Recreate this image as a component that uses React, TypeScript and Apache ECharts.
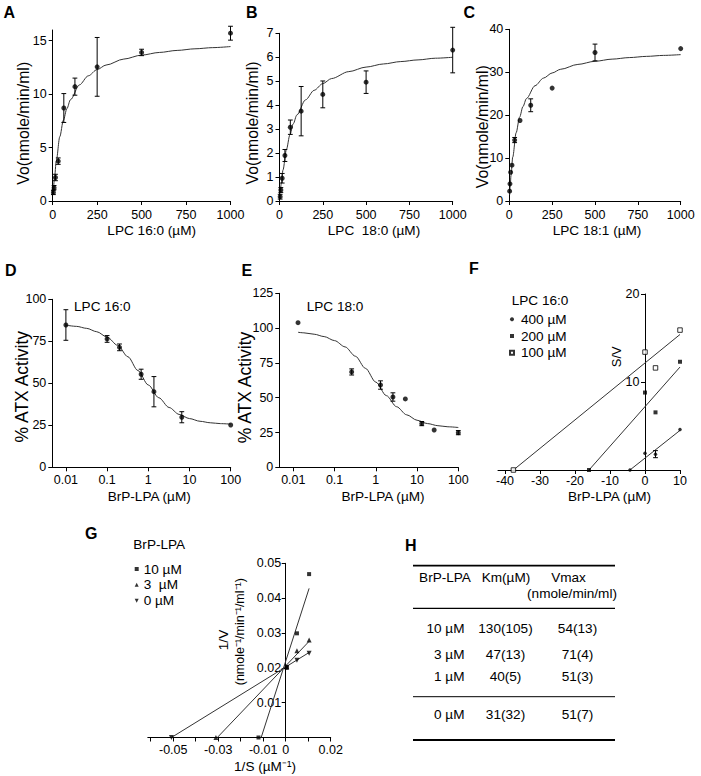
import React, { useEffect, useRef } from 'react';
import * as echarts from 'echarts';

const FONT = '"Liberation Sans", Arial, sans-serif';

// A-C: initial velocity against substrate (µM)
const concAB = [3.9, 7.8, 15.6, 31.25, 62.5, 125, 250, 500, 1000];
const voA = [0.8, 1.25, 2.2, 3.73, 8.7, 10.7, 12.55, 13.9, 15.7];
const errA = [0.2, 0.2, 0.3, 0.3, 1.35, 0.8, 2.75, 0.3, 0.65];
const voB = [0.18, 0.46, 0.95, 1.9, 3.08, 3.75, 4.45, 4.96, 6.3];
const errB = [0.1, 0.1, 0.2, 0.25, 0.3, 1.03, 0.56, 0.47, 0.95];
const concC = [2, 3.9, 7.8, 15.6, 31.25, 62.5, 125, 250, 500, 1000];
const voC = [2.3, 4.0, 6.7, 8.35, 14.2, 18.75, 22.3, 26.3, 34.6, 35.5];
const errC = [0, 0, 0, 0, 0.6, 0, 1.5, 0, 1.95, 0];

// fitted curves
const fitXAB = [4, 10, 20, 40, 60, 80, 100, 150, 200, 250, 300, 400, 500, 600, 700, 800, 900, 1000];
const fitA = [0.93, 2.13, 3.75, 6.02, 7.55, 8.65, 9.48, 10.86, 11.71, 12.3, 12.72, 13.28, 13.65, 13.9, 14.09, 14.24, 14.35, 14.45];
const fitB = [0.31, 0.71, 1.29, 2.15, 2.76, 3.23, 3.59, 4.22, 4.62, 4.9, 5.11, 5.4, 5.59, 5.72, 5.82, 5.89, 5.96, 6.0];
const fitXC = [2, 5, 10, 20, 40, 60, 80, 100, 150, 200, 250, 300, 400, 500, 600, 700, 800, 900, 1000];
const fitC = [1.38, 3.25, 5.97, 10.23, 15.91, 19.53, 22.03, 23.87, 26.85, 28.64, 29.83, 30.69, 31.82, 32.55, 33.05, 33.41, 33.69, 33.92, 34.1];

// D-E: % ATX activity against BrP-LPA (µM, log axis)
const concD = [0.01, 0.1, 0.2, 0.67, 1.37, 6.5, 100];
const actD = [84.7, 76.4, 71.4, 55.4, 45.0, 29.8, 25.2];
const errD = [9.1, 2, 2, 3, 9, 3.3, 0];
const fitXD = [0.01, 0.018, 0.032, 0.056, 0.1, 0.18, 0.32, 0.56, 1, 1.8, 3.2, 5.6, 10, 18, 32, 56, 100];
const fitD = [84.6, 83.9, 82.7, 80.7, 77.5, 72.6, 65.8, 57.6, 49.0, 41.4, 35.6, 31.5, 29.0, 27.4, 26.5, 26.0, 25.7];
const concE = [0.013, 0.26, 1.3, 2.6, 5.2, 13, 26, 100];
const actE = [103.9, 68.5, 59.1, 50.5, 49.1, 31.4, 26.8, 24.9];
const errE = [0, 2.2, 3, 3, 0, 1.5, 0, 1.5];
const fitXE = [0.013, 0.018, 0.032, 0.056, 0.1, 0.18, 0.32, 0.56, 1, 1.8, 3.2, 5.6, 10, 18, 32, 56, 100];
const fitE = [97.0, 96.6, 95.6, 93.9, 91.0, 86.5, 79.8, 71.1, 61.2, 51.5, 43.5, 37.7, 33.8, 31.4, 29.9, 29.1, 28.6];

// F: Dixon-type plot, S/V against BrP-LPA
const xF = [0, 3, 10];
const sv400 = [1.9, 1.8, 4.6];
const sv200 = [8.8, 6.55, 12.3];
const sv100 = [13.4, 11.6, 15.9];
const interceptF = [-4.3, -16, -37.6];
const fitEndF = [4.5, 11.7, 15.4];

// G: Lineweaver-Burk, 1/V against 1/S
const invS = [0.0005, 0.005, 0.0104];
const inv10 = [0.02, 0.0299, 0.0469];
const inv3 = [0.0203, 0.0249, 0.028];
const inv0 = [0.0201, 0.0222, 0.0242];
const interceptG = [-0.0121, -0.031, -0.0508];
const lineStartG = [-0.0109, -0.0304, -0.0508];
const fitEndG = [0.0428, 0.0276, 0.0244];

// H: kinetic constants table
const tableHeader = ['BrP-LPA', 'Km(µM)', 'Vmax', '(nmole/min/ml)'];
const tableConc = ['10 µM', '3 µM', '1 µM', '0 µM'];
const tableKm = ['130(105)', '47(13)', '40(5)', '31(32)'];
const tableVmax = ['54(13)', '71(4)', '51(3)', '51(7)'];

const pts = (xs: number[], ys: number[]) => xs.map((x, i) => [x, ys[i]]);
const logPts = (xs: number[], ys: number[]) => xs.map((x, i) => [Math.log10(x), ys[i]]);
const bars = (xs: number[], ys: number[], es: number[], log = false) =>
  xs.map((x, i) => [log ? Math.log10(x) : x, ys[i], es[i]]).filter((d) => d[2] > 0);

const plain = (v: number) => String(v);
const decade = (v: number) => String(Math.pow(10, v));

const DOWN_TRIANGLE = 'path://M0,0L10,0L5,10Z';

function valueAxis(gridIndex: number, min: number, max: number, ticks: number[], o: any = {}) {
  return {
    type: 'value',
    gridIndex,
    min,
    max,
    offset: o.offset ?? 0,
    axisLine: { show: true, onZero: false, lineStyle: { color: '#000', width: 1 } },
    axisTick: { show: true, length: 4, customValues: ticks, interval: 0, lineStyle: { color: '#000', width: 1 } },
    axisLabel: {
      show: true,
      customValues: o.labels ?? ticks,
      interval: 0,
      formatter: o.formatter ?? plain,
      color: '#000',
      fontSize: 12.5,
      fontFamily: FONT,
      margin: o.margin ?? 6,
      hideOverlap: false,
    },
    splitLine: { show: false },
  };
}

function scatter(idx: number, data: number[][], o: any = {}) {
  return {
    type: 'scatter',
    name: o.name,
    xAxisIndex: idx,
    yAxisIndex: idx,
    data,
    symbol: o.symbol ?? 'circle',
    symbolSize: o.size ?? 5,
    itemStyle: o.itemStyle ?? { color: '#000' },
    z: 4,
    silent: true,
  };
}

function curve(idx: number, data: number[][], smooth = true) {
  return {
    type: 'line',
    xAxisIndex: idx,
    yAxisIndex: idx,
    data,
    symbol: 'none',
    showSymbol: false,
    smooth: smooth ? 0.3 : false,
    smoothMonotone: 'x',
    lineStyle: { color: '#333', width: 1 },
    z: 2,
    silent: true,
  };
}

function errorBars(idx: number, data: number[][]) {
  return {
    type: 'custom',
    xAxisIndex: idx,
    yAxisIndex: idx,
    data,
    encode: { x: 0, y: 1 },
    z: 3,
    silent: true,
    renderItem: (_p: any, api: any) => {
      const x = api.value(0);
      const y = api.value(1);
      const e = api.value(2);
      const a = api.coord([x, y + e]);
      const b = api.coord([x, y - e]);
      const w = 2.4;
      const st = { stroke: '#000', lineWidth: 1 };
      return {
        type: 'group',
        children: [
          { type: 'line', shape: { x1: a[0], y1: a[1], x2: b[0], y2: b[1] }, style: st },
          { type: 'line', shape: { x1: a[0] - w, y1: a[1], x2: a[0] + w, y2: a[1] }, style: st },
          { type: 'line', shape: { x1: b[0] - w, y1: b[1], x2: b[0] + w, y2: b[1] }, style: st },
        ],
      };
    },
  };
}

function text(t: string, x: number, y: number, o: any = {}) {
  return {
    type: 'text',
    x,
    y,
    rotation: o.rot ?? 0,
    silent: true,
    style: {
      text: t,
      fill: '#000',
      fontSize: o.size ?? 13.6,
      fontWeight: o.bold ? 'bold' : 'normal',
      fontFamily: FONT,
      align: o.align ?? 'center',
      verticalAlign: 'middle',
    },
  };
}

function rule(x1: number, x2: number, y: number, w: number) {
  return { type: 'line', silent: true, shape: { x1, y1: y, x2, y2: y }, style: { stroke: '#000', lineWidth: w } };
}

const grids = [
  { left: 52.7, top: 30, width: 177.8, height: 171 },
  { left: 279.5, top: 33.3, width: 173.2, height: 167.7 },
  { left: 509.3, top: 29.3, width: 171.4, height: 171.7 },
  { left: 52.3, top: 299.3, width: 178.4, height: 168 },
  { left: 279.3, top: 293.3, width: 179, height: 174 },
  { left: 498, top: 294, width: 182, height: 176 },
  { left: 147.8, top: 563.3, width: 182.9, height: 174.2 },
].map((g) => ({ ...g, containLabel: false, outerBoundsMode: 'none' }));

const kinTicks = [0, 250, 500, 750, 1000];
const decTicks = [-2, -1, 0, 1, 2];

const xAxes = [
  valueAxis(0, 0, 1000, kinTicks, { margin: 7 }),
  valueAxis(1, 0, 1000, kinTicks, { margin: 7 }),
  valueAxis(2, 0, 1000, kinTicks, { margin: 7 }),
  valueAxis(3, -2.33, 2, decTicks, { formatter: decade, margin: 6 }),
  valueAxis(4, -2.34, 2, decTicks, { formatter: decade, margin: 6 }),
  valueAxis(5, -42, 10, [-40, -30, -20, -10, 0, 10], { margin: 4 }),
  valueAxis(6, -0.0613, 0.02, [-0.06, -0.05, -0.04, -0.03, -0.02, -0.01, 0, 0.01, 0.02], {
    labels: [-0.05, -0.03, -0.01, 0, 0.02],
    margin: 6,
  }),
];

// F and G: the y axis stands at x = 0, moved into the grid with a negative offset
const yAxes = [
  valueAxis(0, 0, 16, [0, 5, 10, 15]),
  valueAxis(1, 0, 7, [0, 1, 2, 3, 4, 5, 6, 7]),
  valueAxis(2, 0, 40, [0, 10, 20, 30, 40]),
  valueAxis(3, 0, 100, [0, 25, 50, 75, 100]),
  valueAxis(4, 0, 125, [0, 25, 50, 75, 100, 125]),
  valueAxis(5, 0, 20, [10, 20], { offset: -147, margin: 5.5 }),
  valueAxis(6, 0, 0.05, [0.01, 0.02, 0.03, 0.04, 0.05], { offset: -137.9, margin: 4.5 }),
];

const openSquare = { color: '#fff', borderColor: '#000', borderWidth: 1 };

const series: any[] = [
  curve(0, pts(fitXAB, fitA)),
  errorBars(0, bars(concAB, voA, errA)),
  scatter(0, pts(concAB, voA)),
  curve(1, pts(fitXAB, fitB)),
  errorBars(1, bars(concAB, voB, errB)),
  scatter(1, pts(concAB, voB)),
  curve(2, pts(fitXC, fitC)),
  errorBars(2, bars(concC, voC, errC)),
  scatter(2, pts(concC, voC)),
  curve(3, logPts(fitXD, fitD)),
  errorBars(3, bars(concD, actD, errD, true)),
  scatter(3, logPts(concD, actD)),
  curve(4, logPts(fitXE, fitE)),
  errorBars(4, bars(concE, actE, errE, true)),
  scatter(4, logPts(concE, actE)),
  // F
  curve(5, [[interceptF[0], 0], [xF[2], fitEndF[0]]], false),
  curve(5, [[interceptF[1], 0], [xF[2], fitEndF[1]]], false),
  curve(5, [[interceptF[2], 0], [xF[2], fitEndF[2]]], false),
  errorBars(5, [[xF[1], sv400[1], 0.4]]),
  scatter(5, [...pts(xF, sv400), [interceptF[0], 0]], { name: '400 µM', size: 3.5 }),
  scatter(5, [...pts(xF, sv200), [interceptF[1], 0]], { name: '200 µM', symbol: 'rect', size: 4 }),
  scatter(5, [...pts(xF, sv100), [interceptF[2], 0]], { name: '100 µM', symbol: 'rect', size: 4.5, itemStyle: openSquare }),
  // G
  curve(6, [[lineStartG[0], 0], [invS[2], fitEndG[0]]], false),
  curve(6, [[lineStartG[1], 0], [invS[2], fitEndG[1]]], false),
  curve(6, [[lineStartG[2], 0], [invS[2], fitEndG[2]]], false),
  scatter(6, [...pts(invS, inv10), [interceptG[0], 0]], { name: '10 µM', symbol: 'rect', size: 4 }),
  scatter(6, [...pts(invS, inv3), [interceptG[1], 0]], { name: '3  µM', symbol: 'triangle', size: 5 }),
  scatter(6, [...pts(invS, inv0), [interceptG[2], 0]], { name: '0 µM', symbol: DOWN_TRIANGLE, size: 5 }),
];

const legendText = { fontSize: 13.6, fontFamily: FONT, color: '#000', lineHeight: 14 };

const legends = [
  {
    orient: 'vertical',
    left: 509,
    top: 312.3,
    padding: 0,
    itemWidth: 4,
    itemHeight: 4,
    itemGap: 2.7,
    selectedMode: false,
    data: ['400 µM', '200 µM', '100 µM'],
    textStyle: { ...legendText, padding: [0, 0, 0, 2] },
  },
  {
    orient: 'vertical',
    left: 134.7,
    top: 562,
    padding: 0,
    itemWidth: 4,
    itemHeight: 4,
    itemGap: 1.85,
    selectedMode: false,
    data: [
      { name: '10 µM', icon: 'rect' },
      { name: '3  µM', icon: 'triangle' },
      { name: '0 µM', icon: DOWN_TRIANGLE },
    ],
    textStyle: legendText,
  },
];

const ROT = Math.PI / 2;
const rowY = [628, 654, 676, 714];

const graphics: any[] = [
  // panel letters
  text('A', 3.5, 12, { bold: true, size: 16, align: 'left' }),
  text('B', 246, 12, { bold: true, size: 16, align: 'left' }),
  text('C', 463.5, 12, { bold: true, size: 16, align: 'left' }),
  text('D', 5, 270, { bold: true, size: 16, align: 'left' }),
  text('E', 241.5, 270, { bold: true, size: 16, align: 'left' }),
  text('F', 469, 268, { bold: true, size: 16, align: 'left' }),
  text('G', 85, 533.5, { bold: true, size: 16, align: 'left' }),
  text('H', 405, 545, { bold: true, size: 16, align: 'left' }),
  // axis titles
  text('LPC 16:0 (µM)', 151.7, 230.3),
  text('LPC  18:0 (µM)', 374, 230.3),
  text('LPC 18:1 (µM)', 597, 230.3),
  text('Vo(nmole/min/ml)', 23, 123.3, { rot: ROT, size: 15.8 }),
  text('Vo(nmole/min/ml)', 252.5, 123, { rot: ROT, size: 15.8 }),
  text('Vo(nmole/min/ml)', 482.3, 126.7, { rot: ROT, size: 15.8 }),
  text('BrP-LPA (µM)', 149.2, 496.5),
  text('BrP-LPA (µM)', 383, 496.5),
  text('BrP-LPA (µM)', 609.5, 496.5),
  text('% ATX Activity', 21.7, 386.7, { rot: ROT, size: 17.5 }),
  text('% ATX Activity', 245, 387.5, { rot: ROT, size: 17.5 }),
  text('S/V', 616.7, 356.7, { rot: ROT, size: 13 }),
  text('1/V', 223.3, 640, { rot: ROT }),
  text('(nmole⁻¹/min⁻¹/ml⁻¹)', 240, 631.7, { rot: ROT, size: 12.5 }),
  text('1/S (µM⁻¹)', 265, 766.7),
  // in-panel labels and legend titles
  text('LPC 16:0', 74, 306.7, { align: 'left' }),
  text('LPC 18:0', 306.7, 306.7, { align: 'left' }),
  text('LPC 16:0', 511.7, 300, { align: 'left' }),
  text('BrP-LPA', 133.3, 544, { align: 'left' }),
  // table H
  rule(413, 615, 565.7, 1.7),
  rule(413, 615, 608.3, 1.3),
  rule(413, 615, 696.7, 1),
  rule(413, 615, 740, 2),
  text(tableHeader[0], 445, 577),
  text(tableHeader[1], 506, 577),
  text(tableHeader[2], 568.5, 577),
  text(tableHeader[3], 572, 593),
  ...tableConc.map((t, i) => text(t, 464.5, rowY[i], { align: 'right' })),
  ...tableKm.map((t, i) => text(t, 505.5, rowY[i])),
  ...tableVmax.map((t, i) => text(t, 577.5, rowY[i])),
];

const option: any = {
  animation: false,
  backgroundColor: '#fff',
  textStyle: { fontFamily: FONT },
  grid: grids,
  xAxis: xAxes,
  yAxis: yAxes,
  legend: legends,
  series,
  graphic: graphics,
};

export default function App() {
  const ref = useRef<HTMLDivElement>(null);

  useEffect(() => {
    document.body.style.margin = '0';
    const chart = echarts.init(ref.current!, undefined, { renderer: 'svg' });
    chart.setOption(option);
    return () => chart.dispose();
  }, []);

  return <div ref={ref} style={{ width: 701, height: 776 }} />;
}
